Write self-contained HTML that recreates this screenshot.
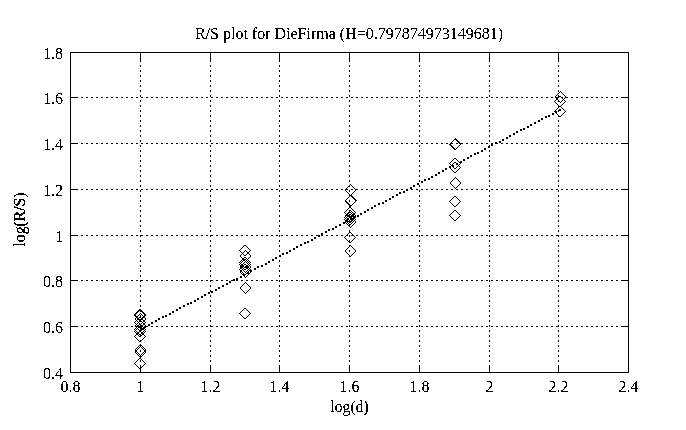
<!DOCTYPE html><html><head><meta charset="utf-8"><title>R/S plot for DieFirma</title><style>html,body{margin:0;padding:0;background:#fff;width:686px;height:430px;overflow:hidden}svg{display:block}</style></head><body><svg width="686" height="430" viewBox="0 0 686 430"><defs><filter id="th" x="0" y="0" width="686" height="430" filterUnits="userSpaceOnUse" color-interpolation-filters="sRGB"><feComponentTransfer><feFuncA type="discrete" tableValues="0 0 0 0 0 0 0 0 0 1 1 1 1 1 1 1 1 1 1 1"/></feComponentTransfer></filter><filter id="th2" x="0" y="0" width="686" height="430" filterUnits="userSpaceOnUse" color-interpolation-filters="sRGB"><feComponentTransfer><feFuncA type="discrete" tableValues="0 0 0 1 1 1 1 1 1 1"/></feComponentTransfer></filter></defs><rect width="686" height="430" fill="#fff"/><path d="M70 52h559v1h-559zM70 53h1v44h-1zM140 53h1v9h-1zM210 53h1v9h-1zM279 53h1v9h-1zM349 53h1v9h-1zM419 53h1v9h-1zM489 53h1v9h-1zM558 53h1v9h-1zM628 53h1v44h-1zM140 65h1v2h-1zM210 65h1v2h-1zM279 65h1v2h-1zM349 65h1v2h-1zM419 65h1v2h-1zM489 65h1v2h-1zM558 65h1v2h-1zM140 70h1v2h-1zM210 70h1v2h-1zM279 70h1v2h-1zM349 70h1v2h-1zM419 70h1v2h-1zM489 70h1v2h-1zM558 70h1v2h-1zM140 75h1v2h-1zM210 75h1v2h-1zM279 75h1v2h-1zM349 75h1v2h-1zM419 75h1v2h-1zM489 75h1v2h-1zM558 75h1v2h-1zM140 80h1v2h-1zM210 80h1v2h-1zM279 80h1v2h-1zM349 80h1v2h-1zM419 80h1v2h-1zM489 80h1v2h-1zM558 80h1v2h-1zM140 85h1v2h-1zM210 85h1v2h-1zM279 85h1v2h-1zM349 85h1v2h-1zM419 85h1v2h-1zM489 85h1v2h-1zM558 85h1v2h-1zM140 90h1v2h-1zM210 90h1v2h-1zM279 90h1v2h-1zM349 90h1v2h-1zM419 90h1v2h-1zM489 90h1v2h-1zM558 90h1v2h-1zM560 91h1v1h-1zM559 92h1v1h-1zM561 92h1v1h-1zM558 93h1v1h-1zM562 93h1v1h-1zM557 94h1v1h-1zM563 94h1v1h-1zM140 95h1v2h-1zM210 95h1v2h-1zM279 95h1v2h-1zM349 95h1v2h-1zM419 95h1v2h-1zM489 95h1v2h-1zM556 95h1v1h-1zM558 95h1v1h-1zM564 95h1v1h-1zM555 96h1v1h-1zM558 96h3v1h-3zM565 96h1v1h-1zM70 97h8v1h-8zM81 97h2v1h-2zM86 97h2v1h-2zM91 97h2v1h-2zM96 97h2v1h-2zM101 97h2v1h-2zM106 97h2v1h-2zM111 97h2v1h-2zM116 97h2v1h-2zM121 97h2v1h-2zM126 97h2v1h-2zM131 97h2v1h-2zM136 97h2v1h-2zM141 97h2v1h-2zM146 97h2v1h-2zM151 97h2v1h-2zM156 97h2v1h-2zM161 97h2v1h-2zM166 97h2v1h-2zM171 97h2v1h-2zM176 97h2v1h-2zM181 97h2v1h-2zM186 97h2v1h-2zM191 97h2v1h-2zM196 97h2v1h-2zM201 97h2v1h-2zM206 97h2v1h-2zM211 97h2v1h-2zM216 97h2v1h-2zM221 97h2v1h-2zM226 97h2v1h-2zM231 97h2v1h-2zM236 97h2v1h-2zM241 97h2v1h-2zM246 97h2v1h-2zM251 97h2v1h-2zM256 97h2v1h-2zM261 97h2v1h-2zM266 97h2v1h-2zM271 97h2v1h-2zM276 97h2v1h-2zM281 97h2v1h-2zM286 97h2v1h-2zM291 97h2v1h-2zM296 97h2v1h-2zM301 97h2v1h-2zM306 97h2v1h-2zM311 97h2v1h-2zM316 97h2v1h-2zM321 97h2v1h-2zM326 97h2v1h-2zM331 97h2v1h-2zM336 97h2v1h-2zM341 97h2v1h-2zM346 97h2v1h-2zM351 97h2v1h-2zM356 97h2v1h-2zM361 97h2v1h-2zM366 97h2v1h-2zM371 97h2v1h-2zM376 97h2v1h-2zM381 97h2v1h-2zM386 97h2v1h-2zM391 97h2v1h-2zM396 97h2v1h-2zM401 97h2v1h-2zM406 97h2v1h-2zM411 97h2v1h-2zM416 97h2v1h-2zM421 97h2v1h-2zM426 97h2v1h-2zM431 97h2v1h-2zM436 97h2v1h-2zM441 97h2v1h-2zM446 97h2v1h-2zM451 97h2v1h-2zM456 97h2v1h-2zM461 97h2v1h-2zM466 97h2v1h-2zM471 97h2v1h-2zM476 97h2v1h-2zM481 97h2v1h-2zM486 97h2v1h-2zM491 97h2v1h-2zM496 97h2v1h-2zM501 97h2v1h-2zM506 97h2v1h-2zM511 97h2v1h-2zM516 97h2v1h-2zM521 97h2v1h-2zM526 97h2v1h-2zM531 97h2v1h-2zM536 97h2v1h-2zM541 97h2v1h-2zM546 97h2v1h-2zM551 97h2v1h-2zM555 97h4v1h-4zM561 97h2v1h-2zM565 97h3v1h-3zM571 97h2v1h-2zM576 97h2v1h-2zM581 97h2v1h-2zM586 97h2v1h-2zM591 97h2v1h-2zM596 97h2v1h-2zM601 97h2v1h-2zM606 97h2v1h-2zM611 97h2v1h-2zM616 97h2v1h-2zM621 97h8v1h-8zM70 98h1v45h-1zM556 98h2v2h-2zM562 98h1v1h-1zM564 98h1v1h-1zM628 98h1v45h-1zM563 99h1v1h-1zM140 100h1v2h-1zM210 100h1v2h-1zM279 100h1v2h-1zM349 100h1v2h-1zM419 100h1v2h-1zM489 100h1v2h-1zM555 100h1v1h-1zM558 100h1v1h-1zM562 100h1v1h-1zM564 100h1v1h-1zM554 101h1v1h-1zM558 101h2v1h-2zM561 101h1v1h-1zM565 101h1v1h-1zM555 102h1v1h-1zM560 102h1v1h-1zM564 102h1v1h-1zM556 103h1v1h-1zM563 103h1v1h-1zM557 104h1v1h-1zM562 104h1v1h-1zM140 105h1v2h-1zM210 105h1v2h-1zM279 105h1v2h-1zM349 105h1v2h-1zM419 105h1v2h-1zM489 105h1v2h-1zM558 105h1v1h-1zM561 105h1v1h-1zM558 106h3v1h-3zM558 107h1v1h-1zM561 107h1v1h-1zM557 108h1v1h-1zM562 108h1v1h-1zM556 109h1v1h-1zM559 109h2v1h-2zM563 109h1v1h-1zM140 110h1v2h-1zM210 110h1v2h-1zM279 110h1v2h-1zM349 110h1v2h-1zM419 110h1v2h-1zM489 110h1v2h-1zM555 110h1v1h-1zM558 110h3v1h-3zM564 110h1v1h-1zM554 111h3v1h-3zM558 111h1v1h-1zM565 111h1v1h-1zM555 112h2v1h-2zM564 112h1v1h-1zM552 113h2v2h-2zM556 113h1v1h-1zM563 113h1v1h-1zM557 114h1v1h-1zM562 114h1v1h-1zM140 115h1v2h-1zM210 115h1v2h-1zM279 115h1v2h-1zM349 115h1v2h-1zM419 115h1v2h-1zM489 115h1v2h-1zM548 115h2v2h-2zM558 115h1v1h-1zM561 115h1v1h-1zM545 116h2v2h-2zM558 116h3v1h-3zM541 118h2v2h-2zM140 120h1v2h-1zM210 120h1v2h-1zM279 120h1v2h-1zM349 120h1v2h-1zM419 120h1v2h-1zM489 120h1v2h-1zM538 120h2v2h-2zM558 120h1v2h-1zM534 122h2v2h-2zM530 124h2v2h-2zM140 125h1v2h-1zM210 125h1v2h-1zM279 125h1v2h-1zM349 125h1v2h-1zM419 125h1v2h-1zM489 125h1v2h-1zM558 125h1v2h-1zM527 126h2v2h-2zM523 128h2v2h-2zM520 129h2v2h-2zM140 130h1v2h-1zM210 130h1v2h-1zM279 130h1v2h-1zM349 130h1v2h-1zM419 130h1v2h-1zM489 130h1v2h-1zM558 130h1v2h-1zM516 131h2v2h-2zM513 133h2v2h-2zM140 135h1v2h-1zM210 135h1v2h-1zM279 135h1v2h-1zM349 135h1v2h-1zM419 135h1v2h-1zM489 135h1v2h-1zM509 135h2v2h-2zM558 135h1v2h-1zM506 137h2v2h-2zM455 138h1v1h-1zM454 139h3v1h-3zM502 139h2v2h-2zM140 140h1v2h-1zM210 140h1v2h-1zM279 140h1v2h-1zM349 140h1v2h-1zM419 140h1v2h-1zM453 140h1v1h-1zM456 140h2v1h-2zM489 140h1v2h-1zM558 140h1v2h-1zM452 141h1v1h-1zM457 141h2v1h-2zM499 141h2v2h-2zM451 142h1v1h-1zM458 142h2v1h-2zM495 142h2v1h-2zM70 143h8v1h-8zM81 143h2v1h-2zM86 143h2v1h-2zM91 143h2v1h-2zM96 143h2v1h-2zM101 143h2v1h-2zM106 143h2v1h-2zM111 143h2v1h-2zM116 143h2v1h-2zM121 143h2v1h-2zM126 143h2v1h-2zM131 143h2v1h-2zM136 143h2v1h-2zM141 143h2v1h-2zM146 143h2v1h-2zM151 143h2v1h-2zM156 143h2v1h-2zM161 143h2v1h-2zM166 143h2v1h-2zM171 143h2v1h-2zM176 143h2v1h-2zM181 143h2v1h-2zM186 143h2v1h-2zM191 143h2v1h-2zM196 143h2v1h-2zM201 143h2v1h-2zM206 143h2v1h-2zM211 143h2v1h-2zM216 143h2v1h-2zM221 143h2v1h-2zM226 143h2v1h-2zM231 143h2v1h-2zM236 143h2v1h-2zM241 143h2v1h-2zM246 143h2v1h-2zM251 143h2v1h-2zM256 143h2v1h-2zM261 143h2v1h-2zM266 143h2v1h-2zM271 143h2v1h-2zM276 143h2v1h-2zM281 143h2v1h-2zM286 143h2v1h-2zM291 143h2v1h-2zM296 143h2v1h-2zM301 143h2v1h-2zM306 143h2v1h-2zM311 143h2v1h-2zM316 143h2v1h-2zM321 143h2v1h-2zM326 143h2v1h-2zM331 143h2v1h-2zM336 143h2v1h-2zM341 143h2v1h-2zM346 143h2v1h-2zM351 143h2v1h-2zM356 143h2v1h-2zM361 143h2v1h-2zM366 143h2v1h-2zM371 143h2v1h-2zM376 143h2v1h-2zM381 143h2v1h-2zM386 143h2v1h-2zM391 143h2v1h-2zM396 143h2v1h-2zM401 143h2v1h-2zM406 143h2v1h-2zM411 143h2v1h-2zM416 143h2v1h-2zM421 143h2v1h-2zM426 143h2v1h-2zM431 143h2v1h-2zM436 143h2v1h-2zM441 143h2v1h-2zM446 143h2v1h-2zM450 143h3v1h-3zM456 143h2v1h-2zM459 143h4v1h-4zM466 143h2v1h-2zM471 143h2v1h-2zM476 143h2v1h-2zM481 143h2v1h-2zM486 143h2v1h-2zM491 143h2v3h-2zM495 143h3v1h-3zM501 143h2v1h-2zM506 143h2v1h-2zM511 143h2v1h-2zM516 143h2v1h-2zM521 143h2v1h-2zM526 143h2v1h-2zM531 143h2v1h-2zM536 143h2v1h-2zM541 143h2v1h-2zM546 143h2v1h-2zM551 143h2v1h-2zM556 143h2v1h-2zM561 143h2v1h-2zM566 143h2v1h-2zM571 143h2v1h-2zM576 143h2v1h-2zM581 143h2v1h-2zM586 143h2v1h-2zM591 143h2v1h-2zM596 143h2v1h-2zM601 143h2v1h-2zM606 143h2v1h-2zM611 143h2v1h-2zM616 143h2v1h-2zM621 143h8v1h-8zM70 144h1v45h-1zM449 144h2v1h-2zM460 144h1v1h-1zM628 144h1v45h-1zM140 145h1v2h-1zM210 145h1v2h-1zM279 145h1v2h-1zM349 145h1v2h-1zM419 145h1v2h-1zM450 145h2v1h-2zM459 145h1v1h-1zM489 145h1v1h-1zM558 145h1v2h-1zM451 146h2v1h-2zM458 146h1v1h-1zM488 146h2v2h-2zM452 147h2v1h-2zM457 147h1v1h-1zM453 148h2v1h-2zM456 148h1v1h-1zM484 148h2v2h-2zM454 149h2v1h-2zM140 150h1v2h-1zM210 150h1v2h-1zM279 150h1v2h-1zM349 150h1v2h-1zM419 150h1v2h-1zM481 150h2v2h-2zM489 150h1v2h-1zM558 150h1v2h-1zM477 152h2v2h-2zM474 153h2v2h-2zM140 155h1v2h-1zM210 155h1v2h-1zM279 155h1v2h-1zM349 155h1v2h-1zM419 155h1v2h-1zM470 155h2v2h-2zM489 155h1v2h-1zM558 155h1v2h-1zM467 157h2v2h-2zM454 158h2v1h-2zM453 159h1v1h-1zM456 159h1v1h-1zM463 159h2v2h-2zM140 160h1v2h-1zM210 160h1v2h-1zM279 160h1v2h-1zM349 160h1v2h-1zM419 160h1v2h-1zM452 160h1v1h-1zM457 160h1v1h-1zM489 160h1v2h-1zM558 160h1v2h-1zM451 161h1v1h-1zM458 161h1v1h-1zM460 161h2v1h-2zM450 162h1v1h-1zM454 162h2v1h-2zM459 162h3v1h-3zM449 163h1v1h-1zM453 163h1v1h-1zM456 163h2v2h-2zM460 163h1v1h-1zM450 164h1v1h-1zM452 164h1v1h-1zM459 164h1v1h-1zM140 165h1v2h-1zM210 165h1v2h-1zM279 165h1v2h-1zM349 165h1v2h-1zM419 165h1v2h-1zM451 165h3v1h-3zM458 165h1v1h-1zM489 165h1v2h-1zM558 165h1v2h-1zM449 166h2v2h-2zM452 166h2v1h-2zM457 166h1v1h-1zM459 166h1v1h-1zM453 167h1v1h-1zM456 167h1v1h-1zM460 167h1v1h-1zM445 168h2v2h-2zM450 168h1v1h-1zM454 168h2v1h-2zM459 168h1v1h-1zM451 169h1v1h-1zM458 169h1v1h-1zM140 170h1v2h-1zM210 170h1v2h-1zM279 170h1v2h-1zM349 170h1v2h-1zM419 170h1v2h-1zM442 170h2v2h-2zM452 170h1v1h-1zM457 170h1v1h-1zM489 170h1v2h-1zM558 170h1v2h-1zM453 171h1v1h-1zM456 171h1v1h-1zM438 172h2v2h-2zM454 172h2v1h-2zM435 174h2v2h-2zM140 175h1v2h-1zM210 175h1v2h-1zM279 175h1v2h-1zM349 175h1v2h-1zM419 175h1v2h-1zM489 175h1v2h-1zM558 175h1v2h-1zM431 176h2v2h-2zM455 177h1v1h-1zM428 178h2v2h-2zM454 178h1v1h-1zM456 178h1v1h-1zM424 179h2v2h-2zM453 179h1v1h-1zM457 179h1v1h-1zM140 180h1v2h-1zM210 180h1v2h-1zM279 180h1v2h-1zM349 180h1v2h-1zM419 180h1v2h-1zM452 180h1v1h-1zM458 180h1v1h-1zM489 180h1v2h-1zM558 180h1v2h-1zM421 181h2v2h-2zM451 181h1v1h-1zM459 181h1v1h-1zM450 182h1v2h-1zM460 182h1v2h-1zM417 183h2v2h-2zM350 184h1v1h-1zM451 184h1v1h-1zM459 184h1v1h-1zM140 185h1v2h-1zM210 185h1v2h-1zM279 185h1v2h-1zM349 185h1v1h-1zM351 185h1v1h-1zM413 185h2v2h-2zM419 185h1v2h-1zM452 185h1v1h-1zM458 185h1v1h-1zM489 185h1v2h-1zM558 185h1v2h-1zM348 186h2v1h-2zM352 186h1v1h-1zM453 186h1v1h-1zM457 186h1v1h-1zM347 187h1v1h-1zM353 187h1v1h-1zM410 187h2v2h-2zM454 187h1v1h-1zM456 187h1v1h-1zM346 188h1v1h-1zM354 188h1v1h-1zM455 188h1v1h-1zM70 189h8v1h-8zM81 189h2v1h-2zM86 189h2v1h-2zM91 189h2v1h-2zM96 189h2v1h-2zM101 189h2v1h-2zM106 189h2v1h-2zM111 189h2v1h-2zM116 189h2v1h-2zM121 189h2v1h-2zM126 189h2v1h-2zM131 189h2v1h-2zM136 189h2v1h-2zM141 189h2v1h-2zM146 189h2v1h-2zM151 189h2v1h-2zM156 189h2v1h-2zM161 189h2v1h-2zM166 189h2v1h-2zM171 189h2v1h-2zM176 189h2v1h-2zM181 189h2v1h-2zM186 189h2v1h-2zM191 189h2v1h-2zM196 189h2v1h-2zM201 189h2v1h-2zM206 189h2v1h-2zM211 189h2v1h-2zM216 189h2v1h-2zM221 189h2v1h-2zM226 189h2v1h-2zM231 189h2v1h-2zM236 189h2v1h-2zM241 189h2v1h-2zM246 189h2v1h-2zM251 189h2v1h-2zM256 189h2v1h-2zM261 189h2v1h-2zM266 189h2v1h-2zM271 189h2v1h-2zM276 189h2v1h-2zM281 189h2v1h-2zM286 189h2v1h-2zM291 189h2v1h-2zM296 189h2v1h-2zM301 189h2v1h-2zM306 189h2v1h-2zM311 189h2v1h-2zM316 189h2v1h-2zM321 189h2v1h-2zM326 189h2v1h-2zM331 189h2v1h-2zM336 189h2v1h-2zM341 189h2v1h-2zM345 189h3v1h-3zM351 189h2v1h-2zM355 189h3v1h-3zM361 189h2v1h-2zM366 189h2v1h-2zM371 189h2v1h-2zM376 189h2v1h-2zM381 189h2v1h-2zM386 189h2v1h-2zM391 189h2v1h-2zM396 189h2v1h-2zM401 189h2v1h-2zM406 189h2v2h-2zM411 189h2v1h-2zM416 189h2v1h-2zM421 189h2v1h-2zM426 189h2v1h-2zM431 189h2v1h-2zM436 189h2v1h-2zM441 189h2v1h-2zM446 189h2v1h-2zM451 189h2v1h-2zM456 189h2v1h-2zM461 189h2v1h-2zM466 189h2v1h-2zM471 189h2v1h-2zM476 189h2v1h-2zM481 189h2v1h-2zM486 189h2v1h-2zM491 189h2v1h-2zM496 189h2v1h-2zM501 189h2v1h-2zM506 189h2v1h-2zM511 189h2v1h-2zM516 189h2v1h-2zM521 189h2v1h-2zM526 189h2v1h-2zM531 189h2v1h-2zM536 189h2v1h-2zM541 189h2v1h-2zM546 189h2v1h-2zM551 189h2v1h-2zM556 189h2v1h-2zM561 189h2v1h-2zM566 189h2v1h-2zM571 189h2v1h-2zM576 189h2v1h-2zM581 189h2v1h-2zM586 189h2v1h-2zM591 189h2v1h-2zM596 189h2v1h-2zM601 189h2v1h-2zM606 189h2v1h-2zM611 189h2v1h-2zM616 189h2v1h-2zM621 189h8v1h-8zM70 190h1v45h-1zM140 190h1v2h-1zM210 190h1v2h-1zM279 190h1v2h-1zM345 190h1v1h-1zM349 190h1v2h-1zM355 190h1v1h-1zM419 190h1v2h-1zM489 190h1v2h-1zM558 190h1v2h-1zM628 190h1v45h-1zM346 191h1v1h-1zM354 191h1v1h-1zM403 191h2v2h-2zM347 192h1v1h-1zM353 192h1v1h-1zM399 192h2v2h-2zM348 193h1v1h-1zM352 193h1v1h-1zM349 194h1v1h-1zM351 194h1v1h-1zM396 194h2v2h-2zM140 195h1v2h-1zM210 195h1v2h-1zM279 195h1v2h-1zM349 195h3v1h-3zM419 195h1v2h-1zM489 195h1v2h-1zM558 195h1v2h-1zM349 196h1v1h-1zM351 196h2v1h-2zM392 196h2v2h-2zM454 196h2v1h-2zM348 197h1v1h-1zM352 197h2v1h-2zM453 197h1v1h-1zM456 197h1v1h-1zM347 198h1v1h-1zM353 198h2v1h-2zM389 198h2v2h-2zM452 198h1v1h-1zM457 198h1v1h-1zM346 199h1v1h-1zM354 199h2v1h-2zM451 199h1v1h-1zM458 199h1v1h-1zM140 200h1v2h-1zM210 200h1v2h-1zM279 200h1v2h-1zM345 200h1v1h-1zM349 200h1v2h-1zM355 200h2v1h-2zM385 200h2v2h-2zM419 200h1v2h-1zM450 200h1v1h-1zM459 200h1v1h-1zM489 200h1v2h-1zM558 200h1v2h-1zM345 201h2v1h-2zM355 201h1v1h-1zM449 201h1v1h-1zM460 201h1v1h-1zM346 202h2v1h-2zM354 202h1v1h-1zM382 202h2v2h-2zM450 202h1v1h-1zM459 202h1v1h-1zM347 203h2v1h-2zM353 203h1v1h-1zM378 203h2v2h-2zM451 203h1v1h-1zM458 203h1v1h-1zM348 204h2v1h-2zM352 204h1v1h-1zM452 204h1v1h-1zM457 204h1v1h-1zM140 205h1v2h-1zM210 205h1v2h-1zM279 205h1v2h-1zM349 205h3v1h-3zM374 205h2v2h-2zM419 205h1v2h-1zM453 205h1v1h-1zM456 205h1v1h-1zM489 205h1v2h-1zM558 205h1v2h-1zM349 206h2v2h-2zM454 206h2v1h-2zM371 207h2v2h-2zM348 208h1v1h-1zM351 208h1v1h-1zM347 209h1v1h-1zM352 209h1v1h-1zM367 209h2v2h-2zM140 210h1v2h-1zM210 210h1v2h-1zM279 210h1v2h-1zM346 210h1v1h-1zM349 210h2v1h-2zM353 210h1v1h-1zM419 210h1v2h-1zM454 210h2v1h-2zM489 210h1v2h-1zM558 210h1v2h-1zM345 211h1v1h-1zM349 211h1v1h-1zM351 211h1v1h-1zM354 211h1v1h-1zM364 211h2v2h-2zM453 211h1v1h-1zM456 211h1v1h-1zM344 212h1v1h-1zM348 212h3v1h-3zM352 212h1v1h-1zM355 212h1v1h-1zM452 212h1v1h-1zM457 212h1v1h-1zM345 213h1v1h-1zM347 213h2v1h-2zM351 213h1v1h-1zM353 213h2v1h-2zM360 213h2v2h-2zM451 213h1v1h-1zM458 213h1v1h-1zM346 214h2v1h-2zM349 214h2v1h-2zM352 214h3v1h-3zM450 214h1v1h-1zM459 214h1v1h-1zM140 215h1v2h-1zM210 215h1v2h-1zM279 215h1v2h-1zM345 215h5v1h-5zM351 215h3v1h-3zM355 215h1v1h-1zM357 215h2v2h-2zM419 215h1v2h-1zM449 215h1v1h-1zM460 215h1v1h-1zM489 215h1v2h-1zM558 215h1v2h-1zM345 216h1v1h-1zM347 216h9v1h-9zM450 216h1v1h-1zM459 216h1v1h-1zM344 217h1v1h-1zM346 217h1v1h-1zM349 217h3v1h-3zM353 217h3v1h-3zM451 217h1v1h-1zM458 217h1v1h-1zM345 218h1v1h-1zM347 218h2v1h-2zM350 218h5v1h-5zM452 218h1v1h-1zM457 218h1v1h-1zM344 219h1v1h-1zM346 219h3v1h-3zM350 219h4v1h-4zM355 219h1v1h-1zM453 219h1v1h-1zM456 219h1v1h-1zM140 220h1v2h-1zM210 220h1v2h-1zM279 220h1v2h-1zM345 220h3v1h-3zM349 220h1v1h-1zM351 220h2v1h-2zM354 220h1v1h-1zM419 220h1v2h-1zM454 220h2v1h-2zM489 220h1v2h-1zM558 220h1v2h-1zM345 221h7v1h-7zM353 221h1v1h-1zM355 221h1v2h-1zM343 222h3v1h-3zM347 222h1v1h-1zM349 222h2v1h-2zM352 222h1v1h-1zM343 223h2v1h-2zM346 223h1v1h-1zM348 223h1v1h-1zM351 223h1v1h-1zM354 223h1v1h-1zM339 224h2v2h-2zM347 224h1v1h-1zM349 224h2v1h-2zM353 224h1v1h-1zM140 225h1v2h-1zM210 225h1v2h-1zM279 225h1v2h-1zM348 225h2v1h-2zM352 225h1v1h-1zM419 225h1v2h-1zM489 225h1v2h-1zM558 225h1v2h-1zM335 226h2v2h-2zM349 226h1v1h-1zM351 226h1v1h-1zM350 227h1v1h-1zM332 228h2v2h-2zM328 229h2v2h-2zM140 230h1v2h-1zM210 230h1v2h-1zM279 230h1v2h-1zM349 230h1v2h-1zM419 230h1v2h-1zM489 230h1v2h-1zM558 230h1v2h-1zM325 231h2v2h-2zM349 232h2v1h-2zM321 233h2v3h-2zM348 233h1v1h-1zM351 233h1v1h-1zM347 234h1v1h-1zM352 234h1v1h-1zM70 235h8v1h-8zM81 235h2v1h-2zM86 235h2v1h-2zM91 235h2v1h-2zM96 235h2v1h-2zM101 235h2v1h-2zM106 235h2v1h-2zM111 235h2v1h-2zM116 235h2v1h-2zM121 235h2v1h-2zM126 235h2v1h-2zM131 235h2v1h-2zM136 235h2v1h-2zM140 235h3v1h-3zM146 235h2v1h-2zM151 235h2v1h-2zM156 235h2v1h-2zM161 235h2v1h-2zM166 235h2v1h-2zM171 235h2v1h-2zM176 235h2v1h-2zM181 235h2v1h-2zM186 235h2v1h-2zM191 235h2v1h-2zM196 235h2v1h-2zM201 235h2v1h-2zM206 235h2v1h-2zM210 235h3v1h-3zM216 235h2v1h-2zM221 235h2v1h-2zM226 235h2v1h-2zM231 235h2v1h-2zM236 235h2v1h-2zM241 235h2v1h-2zM246 235h2v1h-2zM251 235h2v1h-2zM256 235h2v1h-2zM261 235h2v1h-2zM266 235h2v1h-2zM271 235h2v1h-2zM276 235h2v1h-2zM279 235h1v2h-1zM281 235h2v1h-2zM286 235h2v1h-2zM291 235h2v1h-2zM296 235h2v1h-2zM301 235h2v1h-2zM306 235h2v1h-2zM311 235h2v1h-2zM316 235h4v1h-4zM326 235h2v1h-2zM331 235h2v1h-2zM336 235h2v1h-2zM341 235h2v1h-2zM346 235h2v1h-2zM349 235h1v2h-1zM351 235h3v1h-3zM356 235h2v1h-2zM361 235h2v1h-2zM366 235h2v1h-2zM371 235h2v1h-2zM376 235h2v1h-2zM381 235h2v1h-2zM386 235h2v1h-2zM391 235h2v1h-2zM396 235h2v1h-2zM401 235h2v1h-2zM406 235h2v1h-2zM411 235h2v1h-2zM416 235h2v1h-2zM419 235h1v2h-1zM421 235h2v1h-2zM426 235h2v1h-2zM431 235h2v1h-2zM436 235h2v1h-2zM441 235h2v1h-2zM446 235h2v1h-2zM451 235h2v1h-2zM456 235h2v1h-2zM461 235h2v1h-2zM466 235h2v1h-2zM471 235h2v1h-2zM476 235h2v1h-2zM481 235h2v1h-2zM486 235h2v1h-2zM489 235h1v2h-1zM491 235h2v1h-2zM496 235h2v1h-2zM501 235h2v1h-2zM506 235h2v1h-2zM511 235h2v1h-2zM516 235h2v1h-2zM521 235h2v1h-2zM526 235h2v1h-2zM531 235h2v1h-2zM536 235h2v1h-2zM541 235h2v1h-2zM546 235h2v1h-2zM551 235h2v1h-2zM556 235h3v1h-3zM561 235h2v1h-2zM566 235h2v1h-2zM571 235h2v1h-2zM576 235h2v1h-2zM581 235h2v1h-2zM586 235h2v1h-2zM591 235h2v1h-2zM596 235h2v1h-2zM601 235h2v1h-2zM606 235h2v1h-2zM611 235h2v1h-2zM616 235h2v1h-2zM621 235h8v1h-8zM70 236h1v44h-1zM140 236h1v1h-1zM210 236h1v1h-1zM318 236h2v1h-2zM345 236h1v1h-1zM354 236h1v1h-1zM558 236h1v1h-1zM628 236h1v44h-1zM314 237h2v2h-2zM344 237h1v1h-1zM355 237h1v1h-1zM345 238h1v1h-1zM354 238h1v1h-1zM311 239h2v2h-2zM346 239h1v1h-1zM353 239h1v1h-1zM140 240h1v2h-1zM210 240h1v2h-1zM279 240h1v2h-1zM347 240h1v1h-1zM349 240h1v1h-1zM352 240h1v1h-1zM419 240h1v2h-1zM489 240h1v2h-1zM558 240h1v2h-1zM307 241h2v2h-2zM348 241h2v1h-2zM351 241h1v1h-1zM304 242h2v2h-2zM349 242h2v1h-2zM300 244h2v2h-2zM140 245h1v2h-1zM210 245h1v2h-1zM244 245h2v1h-2zM279 245h1v2h-1zM349 245h2v1h-2zM419 245h1v2h-1zM489 245h1v2h-1zM558 245h1v2h-1zM243 246h1v1h-1zM246 246h1v1h-1zM296 246h2v2h-2zM349 246h1v1h-1zM351 246h1v1h-1zM242 247h1v1h-1zM247 247h1v1h-1zM348 247h1v1h-1zM352 247h1v1h-1zM241 248h1v1h-1zM248 248h1v1h-1zM293 248h2v2h-2zM347 248h1v1h-1zM353 248h1v1h-1zM240 249h1v1h-1zM249 249h1v1h-1zM346 249h1v1h-1zM354 249h1v1h-1zM140 250h1v2h-1zM210 250h1v2h-1zM239 250h1v1h-1zM245 250h1v1h-1zM250 250h1v1h-1zM279 250h1v2h-1zM289 250h2v2h-2zM345 250h1v2h-1zM349 250h1v2h-1zM355 250h1v2h-1zM419 250h1v2h-1zM489 250h1v2h-1zM558 250h1v2h-1zM240 251h1v1h-1zM244 251h1v1h-1zM246 251h1v1h-1zM249 251h1v1h-1zM241 252h1v1h-1zM243 252h1v1h-1zM247 252h2v2h-2zM286 252h2v2h-2zM346 252h1v1h-1zM354 252h1v1h-1zM242 253h1v1h-1zM282 253h2v2h-2zM347 253h1v1h-1zM353 253h1v1h-1zM241 254h1v1h-1zM243 254h1v1h-1zM246 254h1v1h-1zM249 254h1v1h-1zM348 254h1v1h-1zM352 254h1v1h-1zM140 255h1v2h-1zM210 255h1v2h-1zM240 255h1v2h-1zM244 255h2v1h-2zM250 255h1v2h-1zM279 255h2v2h-2zM349 255h1v1h-1zM351 255h1v1h-1zM419 255h1v2h-1zM489 255h1v2h-1zM558 255h1v2h-1zM349 256h2v1h-2zM241 257h1v1h-1zM244 257h2v1h-2zM249 257h1v1h-1zM275 257h2v2h-2zM242 258h2v1h-2zM246 258h1v1h-1zM248 258h1v1h-1zM242 259h4v1h-4zM247 259h1v1h-1zM272 259h2v2h-2zM140 260h1v2h-1zM210 260h1v2h-1zM241 260h1v1h-1zM243 260h2v1h-2zM246 260h1v1h-1zM248 260h1v1h-1zM279 260h1v2h-1zM349 260h1v2h-1zM419 260h1v2h-1zM489 260h1v2h-1zM558 260h1v2h-1zM240 261h1v1h-1zM242 261h1v1h-1zM245 261h1v1h-1zM247 261h1v1h-1zM249 261h1v1h-1zM268 261h2v2h-2zM239 262h1v1h-1zM241 262h1v1h-1zM244 262h1v1h-1zM246 262h1v1h-1zM248 262h1v1h-1zM250 262h1v1h-1zM240 263h1v1h-1zM243 263h1v1h-1zM247 263h1v1h-1zM249 263h1v1h-1zM265 263h2v2h-2zM239 264h1v1h-1zM241 264h2v1h-2zM244 264h2v1h-2zM248 264h1v1h-1zM250 264h1v1h-1zM140 265h1v2h-1zM210 265h1v2h-1zM240 265h4v2h-4zM246 265h2v1h-2zM249 265h1v1h-1zM261 265h2v2h-2zM279 265h1v2h-1zM349 265h1v2h-1zM419 265h1v2h-1zM489 265h1v2h-1zM558 265h1v2h-1zM245 266h4v1h-4zM250 266h1v2h-1zM257 266h2v2h-2zM240 267h3v1h-3zM244 267h5v1h-5zM240 268h2v1h-2zM243 268h1v1h-1zM246 268h2v1h-2zM249 268h1v1h-1zM254 268h2v2h-2zM239 269h1v1h-1zM242 269h1v1h-1zM244 269h2v1h-2zM248 269h1v1h-1zM250 269h1v1h-1zM140 270h1v2h-1zM210 270h1v2h-1zM240 270h2v2h-2zM243 270h1v1h-1zM247 270h1v1h-1zM249 270h3v1h-3zM279 270h1v2h-1zM349 270h1v2h-1zM419 270h1v2h-1zM489 270h1v2h-1zM558 270h1v2h-1zM244 271h1v1h-1zM246 271h1v1h-1zM248 271h1v1h-1zM250 271h2v1h-2zM240 272h1v1h-1zM242 272h1v1h-1zM245 272h1v1h-1zM247 272h2v1h-2zM250 272h1v1h-1zM241 273h1v1h-1zM243 273h1v1h-1zM246 273h4v1h-4zM242 274h4v1h-4zM248 274h1v1h-1zM140 275h1v2h-1zM210 275h1v2h-1zM243 275h2v1h-2zM247 275h1v1h-1zM279 275h1v2h-1zM349 275h1v2h-1zM419 275h1v2h-1zM489 275h1v2h-1zM558 275h1v2h-1zM240 276h2v2h-2zM244 276h1v1h-1zM246 276h1v1h-1zM245 277h1v1h-1zM236 278h2v3h-2zM233 279h2v1h-2zM70 280h8v1h-8zM81 280h2v1h-2zM86 280h2v1h-2zM91 280h2v1h-2zM96 280h2v1h-2zM101 280h2v1h-2zM106 280h2v1h-2zM111 280h2v1h-2zM116 280h2v1h-2zM121 280h2v1h-2zM126 280h2v1h-2zM131 280h2v1h-2zM136 280h2v1h-2zM140 280h3v1h-3zM146 280h2v1h-2zM151 280h2v1h-2zM156 280h2v1h-2zM161 280h2v1h-2zM166 280h2v1h-2zM171 280h2v1h-2zM176 280h2v1h-2zM181 280h2v1h-2zM186 280h2v1h-2zM191 280h2v1h-2zM196 280h2v1h-2zM201 280h2v1h-2zM206 280h2v1h-2zM210 280h3v1h-3zM216 280h2v1h-2zM221 280h2v1h-2zM226 280h2v1h-2zM231 280h4v1h-4zM241 280h2v1h-2zM246 280h2v1h-2zM251 280h2v1h-2zM256 280h2v1h-2zM261 280h2v1h-2zM266 280h2v1h-2zM271 280h2v1h-2zM276 280h2v1h-2zM279 280h1v2h-1zM281 280h2v1h-2zM286 280h2v1h-2zM291 280h2v1h-2zM296 280h2v1h-2zM301 280h2v1h-2zM306 280h2v1h-2zM311 280h2v1h-2zM316 280h2v1h-2zM321 280h2v1h-2zM326 280h2v1h-2zM331 280h2v1h-2zM336 280h2v1h-2zM341 280h2v1h-2zM346 280h2v1h-2zM349 280h1v2h-1zM351 280h2v1h-2zM356 280h2v1h-2zM361 280h2v1h-2zM366 280h2v1h-2zM371 280h2v1h-2zM376 280h2v1h-2zM381 280h2v1h-2zM386 280h2v1h-2zM391 280h2v1h-2zM396 280h2v1h-2zM401 280h2v1h-2zM406 280h2v1h-2zM411 280h2v1h-2zM416 280h2v1h-2zM419 280h1v2h-1zM421 280h2v1h-2zM426 280h2v1h-2zM431 280h2v1h-2zM436 280h2v1h-2zM441 280h2v1h-2zM446 280h2v1h-2zM451 280h2v1h-2zM456 280h2v1h-2zM461 280h2v1h-2zM466 280h2v1h-2zM471 280h2v1h-2zM476 280h2v1h-2zM481 280h2v1h-2zM486 280h2v1h-2zM489 280h1v2h-1zM491 280h2v1h-2zM496 280h2v1h-2zM501 280h2v1h-2zM506 280h2v1h-2zM511 280h2v1h-2zM516 280h2v1h-2zM521 280h2v1h-2zM526 280h2v1h-2zM531 280h2v1h-2zM536 280h2v1h-2zM541 280h2v1h-2zM546 280h2v1h-2zM551 280h2v1h-2zM556 280h3v1h-3zM561 280h2v1h-2zM566 280h2v1h-2zM571 280h2v1h-2zM576 280h2v1h-2zM581 280h2v1h-2zM586 280h2v1h-2zM591 280h2v1h-2zM596 280h2v1h-2zM601 280h2v1h-2zM606 280h2v1h-2zM611 280h2v1h-2zM616 280h2v1h-2zM621 280h8v1h-8zM70 281h1v45h-1zM140 281h1v1h-1zM210 281h1v1h-1zM229 281h2v2h-2zM558 281h1v1h-1zM628 281h1v45h-1zM245 282h1v1h-1zM226 283h2v2h-2zM244 283h1v1h-1zM246 283h1v1h-1zM243 284h1v1h-1zM247 284h1v1h-1zM140 285h1v2h-1zM210 285h1v2h-1zM222 285h2v2h-2zM242 285h1v1h-1zM248 285h1v1h-1zM279 285h1v2h-1zM349 285h1v2h-1zM419 285h1v2h-1zM489 285h1v2h-1zM558 285h1v2h-1zM241 286h1v1h-1zM249 286h1v1h-1zM218 287h2v2h-2zM240 287h1v2h-1zM250 287h1v2h-1zM215 289h2v2h-2zM241 289h1v1h-1zM249 289h1v1h-1zM140 290h1v2h-1zM210 290h1v1h-1zM242 290h1v1h-1zM248 290h1v1h-1zM279 290h1v2h-1zM349 290h1v2h-1zM419 290h1v2h-1zM489 290h1v2h-1zM558 290h1v2h-1zM210 291h3v1h-3zM243 291h1v1h-1zM247 291h1v1h-1zM208 292h2v2h-2zM211 292h2v1h-2zM244 292h1v1h-1zM246 292h1v1h-1zM245 293h1v1h-1zM204 294h2v2h-2zM140 295h1v2h-1zM210 295h1v2h-1zM279 295h1v2h-1zM349 295h1v2h-1zM419 295h1v2h-1zM489 295h1v2h-1zM558 295h1v2h-1zM201 296h2v2h-2zM197 298h2v2h-2zM140 300h1v2h-1zM194 300h2v2h-2zM210 300h1v2h-1zM279 300h1v2h-1zM349 300h1v2h-1zM419 300h1v2h-1zM489 300h1v2h-1zM558 300h1v2h-1zM190 302h2v2h-2zM187 303h2v2h-2zM140 305h1v2h-1zM183 305h2v2h-2zM210 305h1v2h-1zM279 305h1v2h-1zM349 305h1v2h-1zM419 305h1v2h-1zM489 305h1v2h-1zM558 305h1v2h-1zM179 307h2v2h-2zM244 308h2v1h-2zM139 309h2v1h-2zM176 309h2v2h-2zM243 309h1v1h-1zM246 309h1v1h-1zM138 310h4v1h-4zM210 310h1v2h-1zM242 310h1v1h-1zM247 310h1v1h-1zM279 310h1v2h-1zM349 310h1v2h-1zM419 310h1v2h-1zM489 310h1v2h-1zM558 310h1v2h-1zM137 311h2v1h-2zM140 311h3v1h-3zM172 311h2v2h-2zM241 311h1v1h-1zM248 311h1v1h-1zM136 312h2v1h-2zM142 312h2v1h-2zM240 312h1v1h-1zM249 312h1v1h-1zM135 313h2v1h-2zM140 313h1v1h-1zM143 313h2v1h-2zM169 313h2v2h-2zM239 313h1v1h-1zM250 313h1v1h-1zM134 314h2v2h-2zM139 314h1v1h-1zM141 314h1v1h-1zM144 314h2v2h-2zM240 314h1v1h-1zM249 314h1v1h-1zM138 315h1v1h-1zM140 315h1v2h-1zM142 315h1v1h-1zM165 315h2v2h-2zM210 315h1v2h-1zM241 315h1v1h-1zM248 315h1v1h-1zM279 315h1v2h-1zM349 315h1v2h-1zM419 315h1v2h-1zM489 315h1v2h-1zM558 315h1v2h-1zM135 316h3v1h-3zM143 316h2v1h-2zM162 316h2v2h-2zM242 316h1v1h-1zM247 316h1v1h-1zM136 317h2v1h-2zM139 317h2v1h-2zM142 317h3v1h-3zM243 317h1v1h-1zM246 317h1v1h-1zM135 318h1v2h-1zM137 318h2v1h-2zM141 318h2v1h-2zM145 318h1v2h-1zM158 318h2v2h-2zM244 318h2v1h-2zM137 319h6v1h-6zM136 320h1v1h-1zM139 320h2v1h-2zM143 320h2v2h-2zM155 320h2v2h-2zM210 320h1v2h-1zM279 320h1v2h-1zM349 320h1v2h-1zM419 320h1v2h-1zM489 320h1v2h-1zM558 320h1v2h-1zM135 321h1v1h-1zM137 321h1v1h-1zM139 321h3v1h-3zM134 322h1v1h-1zM138 322h1v1h-1zM142 322h1v1h-1zM145 322h1v1h-1zM151 322h2v2h-2zM135 323h1v1h-1zM137 323h1v1h-1zM139 323h1v1h-1zM141 323h1v1h-1zM143 323h2v2h-2zM136 324h1v1h-1zM139 324h2v1h-2zM148 324h2v2h-2zM135 325h1v1h-1zM137 325h2v1h-2zM140 325h3v1h-3zM145 325h1v1h-1zM210 325h1v1h-1zM279 325h1v2h-1zM349 325h1v2h-1zM419 325h1v2h-1zM489 325h1v2h-1zM558 325h1v1h-1zM70 326h8v1h-8zM81 326h2v1h-2zM86 326h2v1h-2zM91 326h2v1h-2zM96 326h2v1h-2zM101 326h2v1h-2zM106 326h2v1h-2zM111 326h2v1h-2zM116 326h2v1h-2zM121 326h2v1h-2zM126 326h2v1h-2zM131 326h2v1h-2zM135 326h8v1h-8zM144 326h4v1h-4zM151 326h2v1h-2zM156 326h2v1h-2zM161 326h2v1h-2zM166 326h2v1h-2zM171 326h2v1h-2zM176 326h2v1h-2zM181 326h2v1h-2zM186 326h2v1h-2zM191 326h2v1h-2zM196 326h2v1h-2zM201 326h2v1h-2zM206 326h2v1h-2zM210 326h3v1h-3zM216 326h2v1h-2zM221 326h2v1h-2zM226 326h2v1h-2zM231 326h2v1h-2zM236 326h2v1h-2zM241 326h2v1h-2zM246 326h2v1h-2zM251 326h2v1h-2zM256 326h2v1h-2zM261 326h2v1h-2zM266 326h2v1h-2zM271 326h2v1h-2zM276 326h2v1h-2zM281 326h2v1h-2zM286 326h2v1h-2zM291 326h2v1h-2zM296 326h2v1h-2zM301 326h2v1h-2zM306 326h2v1h-2zM311 326h2v1h-2zM316 326h2v1h-2zM321 326h2v1h-2zM326 326h2v1h-2zM331 326h2v1h-2zM336 326h2v1h-2zM341 326h2v1h-2zM346 326h2v1h-2zM351 326h2v1h-2zM356 326h2v1h-2zM361 326h2v1h-2zM366 326h2v1h-2zM371 326h2v1h-2zM376 326h2v1h-2zM381 326h2v1h-2zM386 326h2v1h-2zM391 326h2v1h-2zM396 326h2v1h-2zM401 326h2v1h-2zM406 326h2v1h-2zM411 326h2v1h-2zM416 326h2v1h-2zM421 326h2v1h-2zM426 326h2v1h-2zM431 326h2v1h-2zM436 326h2v1h-2zM441 326h2v1h-2zM446 326h2v1h-2zM451 326h2v1h-2zM456 326h2v1h-2zM461 326h2v1h-2zM466 326h2v1h-2zM471 326h2v1h-2zM476 326h2v1h-2zM481 326h2v1h-2zM486 326h2v1h-2zM491 326h2v1h-2zM496 326h2v1h-2zM501 326h2v1h-2zM506 326h2v1h-2zM511 326h2v1h-2zM516 326h2v1h-2zM521 326h2v1h-2zM526 326h2v1h-2zM531 326h2v1h-2zM536 326h2v1h-2zM541 326h2v1h-2zM546 326h2v1h-2zM551 326h2v1h-2zM556 326h3v1h-3zM561 326h2v1h-2zM566 326h2v1h-2zM571 326h2v1h-2zM576 326h2v1h-2zM581 326h2v1h-2zM586 326h2v1h-2zM591 326h2v1h-2zM596 326h2v1h-2zM601 326h2v1h-2zM606 326h2v1h-2zM611 326h2v1h-2zM616 326h2v1h-2zM621 326h8v1h-8zM70 327h1v45h-1zM136 327h1v1h-1zM138 327h4v1h-4zM143 327h3v1h-3zM628 327h1v45h-1zM135 328h1v1h-1zM137 328h1v1h-1zM140 328h5v1h-5zM134 329h1v1h-1zM136 329h1v1h-1zM138 329h1v1h-1zM140 329h4v1h-4zM145 329h1v1h-1zM135 330h1v1h-1zM139 330h3v1h-3zM144 330h1v1h-1zM210 330h1v2h-1zM279 330h1v2h-1zM349 330h1v2h-1zM419 330h1v2h-1zM489 330h1v2h-1zM558 330h1v2h-1zM134 331h1v1h-1zM136 331h1v1h-1zM139 331h2v1h-2zM143 331h1v1h-1zM145 331h1v1h-1zM135 332h1v1h-1zM137 332h2v1h-2zM141 332h2v1h-2zM144 332h1v1h-1zM136 333h3v1h-3zM141 333h3v1h-3zM136 334h2v1h-2zM139 334h2v1h-2zM142 334h2v1h-2zM135 335h1v1h-1zM138 335h1v1h-1zM140 335h2v1h-2zM144 335h1v1h-1zM210 335h1v2h-1zM279 335h1v2h-1zM349 335h1v2h-1zM419 335h1v2h-1zM489 335h1v2h-1zM558 335h1v2h-1zM134 336h1v1h-1zM139 336h2v1h-2zM145 336h1v1h-1zM135 337h1v1h-1zM144 337h1v1h-1zM136 338h1v1h-1zM143 338h1v1h-1zM137 339h1v1h-1zM142 339h1v1h-1zM138 340h1v1h-1zM140 340h2v1h-2zM210 340h1v2h-1zM279 340h1v2h-1zM349 340h1v2h-1zM419 340h1v2h-1zM489 340h1v2h-1zM558 340h1v2h-1zM139 341h2v1h-2zM140 344h1v1h-1zM139 345h3v1h-3zM210 345h1v2h-1zM279 345h1v2h-1zM349 345h1v2h-1zM419 345h1v2h-1zM489 345h1v2h-1zM558 345h1v2h-1zM138 346h1v1h-1zM140 346h1v1h-1zM142 346h1v1h-1zM137 347h1v1h-1zM139 347h1v1h-1zM141 347h1v1h-1zM143 347h1v1h-1zM136 348h1v1h-1zM138 348h1v1h-1zM142 348h1v1h-1zM144 348h1v1h-1zM135 349h1v1h-1zM137 349h1v1h-1zM143 349h1v1h-1zM145 349h1v1h-1zM135 350h2v2h-2zM140 350h1v2h-1zM144 350h2v2h-2zM210 350h1v2h-1zM279 350h1v2h-1zM349 350h1v2h-1zM419 350h1v2h-1zM489 350h1v2h-1zM558 350h1v2h-1zM135 352h1v1h-1zM137 352h1v1h-1zM143 352h1v1h-1zM145 352h1v1h-1zM136 353h1v1h-1zM138 353h1v1h-1zM142 353h1v1h-1zM144 353h1v1h-1zM137 354h1v1h-1zM139 354h1v1h-1zM141 354h1v1h-1zM143 354h1v1h-1zM138 355h1v1h-1zM140 355h1v1h-1zM142 355h1v1h-1zM210 355h1v2h-1zM279 355h1v2h-1zM349 355h1v2h-1zM419 355h1v2h-1zM489 355h1v2h-1zM558 355h1v2h-1zM139 356h3v1h-3zM140 357h1v1h-1zM139 358h2v1h-2zM138 359h1v1h-1zM141 359h1v1h-1zM137 360h1v1h-1zM140 360h1v2h-1zM142 360h1v1h-1zM210 360h1v2h-1zM279 360h1v2h-1zM349 360h1v2h-1zM419 360h1v2h-1zM489 360h1v2h-1zM558 360h1v2h-1zM136 361h1v1h-1zM143 361h1v1h-1zM135 362h1v1h-1zM144 362h1v1h-1zM134 363h1v1h-1zM145 363h1v1h-1zM135 364h1v1h-1zM144 364h1v1h-1zM136 365h1v1h-1zM140 365h1v2h-1zM143 365h1v1h-1zM210 365h1v7h-1zM279 365h1v7h-1zM349 365h1v7h-1zM419 365h1v7h-1zM489 365h1v7h-1zM558 365h1v7h-1zM137 366h1v1h-1zM142 366h1v1h-1zM138 367h1v1h-1zM140 367h2v1h-2zM139 368h2v1h-2zM140 369h1v3h-1zM70 372h559v1h-559z" fill="#000" shape-rendering="crispEdges"/><g filter="url(#th)" font-family="'Liberation Serif', 'Times New Roman', serif" font-size="16" fill="#000"><text x="70.5" y="392" text-anchor="middle">0.8</text><text x="140.5" y="392" text-anchor="middle">1</text><text x="210.5" y="392" text-anchor="middle">1.2</text><text x="279.5" y="392" text-anchor="middle">1.4</text><text x="349.5" y="392" text-anchor="middle">1.6</text><text x="419.5" y="392" text-anchor="middle">1.8</text><text x="489.5" y="392" text-anchor="middle">2</text><text x="558.5" y="392" text-anchor="middle">2.2</text><text x="628.5" y="392" text-anchor="middle">2.4</text><text x="63" y="59" text-anchor="end">1.8</text><text x="63" y="104" text-anchor="end">1.6</text><text x="63" y="150" text-anchor="end">1.4</text><text x="63" y="196" text-anchor="end">1.2</text><text x="63" y="242" text-anchor="end">1</text><text x="63" y="287" text-anchor="end">0.8</text><text x="63" y="333" text-anchor="end">0.6</text><text x="63" y="379" text-anchor="end">0.4</text><text x="349" y="39" text-anchor="middle">R/S plot for DieFirma (H=0.797874973149681)</text><text x="349.5" y="411.5" text-anchor="middle" font-size="15.75">log(d)</text></g><g filter="url(#th2)"><text transform="translate(24.5 219.5) rotate(-90)" text-anchor="middle" font-size="15.7" font-family="'Liberation Serif', serif">log(R/S)</text></g></svg></body></html>
